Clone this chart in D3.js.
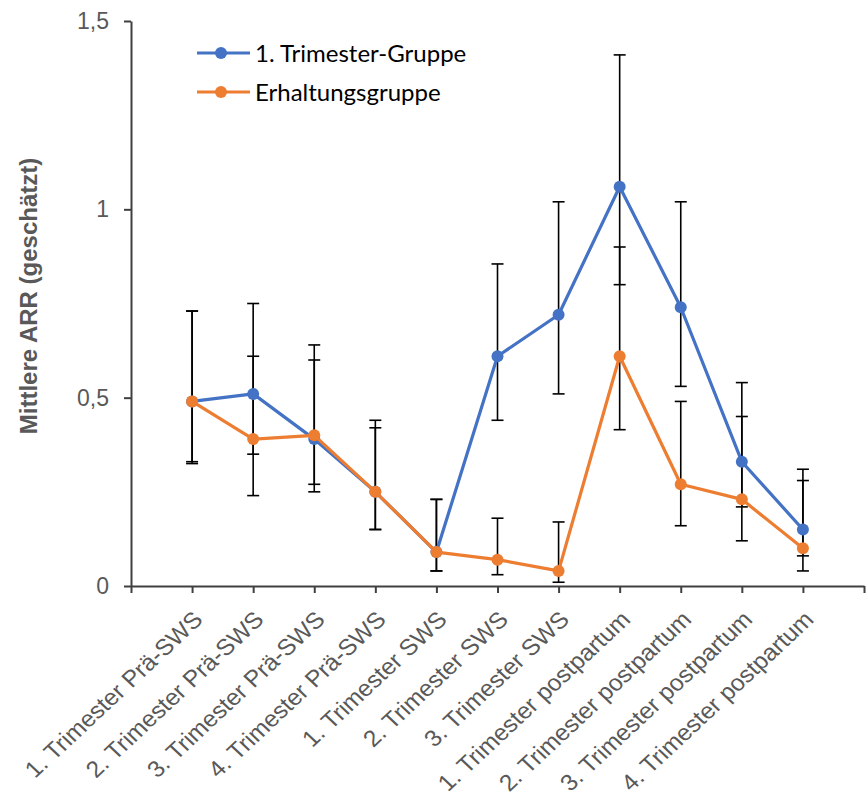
<!DOCTYPE html>
<html>
<head>
<meta charset="utf-8">
<script src="https://cdn.jsdelivr.net/npm/d3@7"></script>
<style>
  body { margin: 0; background: #fff; }
  .axis path, .axis line { stroke: #404040; stroke-width: 2px; }
  .axis text { font-family: "Liberation Sans", Arial, sans-serif; font-size: 23px; fill: #595959; }
</style>
</head>
<body>
<script>
// categories along the x axis
var categories = [
  "1. Trimester Prä-SWS", "2. Trimester Prä-SWS", "3. Trimester Prä-SWS", "4. Trimester Prä-SWS",
  "1. Trimester SWS", "2. Trimester SWS", "3. Trimester SWS",
  "1. Trimester postpartum", "2. Trimester postpartum", "3. Trimester postpartum", "4. Trimester postpartum"
];
var seriesNames = ["1. Trimester-Gruppe", "Erhaltungsgruppe"];

// estimated values with lower / upper error limits
var firstTrim   = [0.49, 0.51, 0.39, 0.25, 0.09, 0.61, 0.72, 1.06, 0.74, 0.33, 0.15];
var firstTrimLo = [0.33, 0.35, 0.27, 0.15, 0.04, 0.44, 0.51, 0.80, 0.53, 0.21, 0.08];
var firstTrimHi = [0.73, 0.75, 0.64, 0.44, 0.23, 0.855, 1.02, 1.41, 1.02, 0.54, 0.31];

var maint   = [0.49, 0.39, 0.40, 0.25, 0.09, 0.07, 0.04, 0.61, 0.27, 0.23, 0.10];
var maintLo = [0.325, 0.24, 0.25, 0.15, 0.04, 0.03, 0.01, 0.415, 0.16, 0.12, 0.04];
var maintHi = [0.73, 0.61, 0.60, 0.42, 0.23, 0.18, 0.17, 0.90, 0.49, 0.45, 0.28];

var yTicks = [0, 0.5, 1, 1.5];
var colors = ["#4472C4", "#ED7D31"];

var W = 866, H = 796;
var svg = d3.select("body").append("svg").attr("width", W).attr("height", H);

// x: category index 1..11 on a 0..12 axis, y: 0..1.5
var x = d3.scaleLinear().domain([0, categories.length + 1]).range([131, 864]);
var y = d3.scaleLinear().domain([0, 1.5]).range([586, 21]);

var fmt = function(d) { return String(d).replace(".", ","); };

// y axis
svg.append("g").attr("class", "axis")
    .attr("transform", "translate(" + x(0) + ",0)")
    .call(d3.axisLeft(y).tickValues(yTicks).tickFormat(fmt).tickSizeInner(7).tickSizeOuter(0).tickPadding(15));

// x axis, ticks at every integer, labels set separately
svg.append("g").attr("class", "axis")
    .attr("transform", "translate(0," + y(0) + ")")
    .call(d3.axisBottom(x).tickValues(d3.range(0, categories.length + 2)).tickFormat("").tickSizeInner(7).tickSizeOuter(0));

// rotated category labels (slightly wide, like the source picture)
svg.append("g").selectAll("text")
    .data(categories)
  .enter().append("text")
    .attr("transform", function(d, i) { return "translate(" + (x(i + 1) + 12) + ",621) scale(1.07,1) rotate(-45)"; })
    .attr("text-anchor", "end")
    .style("font-family", "'Liberation Sans', Arial, sans-serif")
    .style("font-size", "23px")
    .style("fill", "#595959")
    .text(function(d) { return d; });

// y axis title
svg.append("text")
    .attr("transform", "translate(37,296) rotate(-90)")
    .attr("text-anchor", "middle")
    .style("font-family", "'Liberation Sans', Arial, sans-serif")
    .style("font-size", "24px")
    .style("font-weight", "bold")
    .style("fill", "#595959")
    .text("Mittlere ARR (geschätzt)");

var series = [
  {name: seriesNames[0], vals: firstTrim, lo: firstTrimLo, hi: firstTrimHi, color: colors[0]},
  {name: seriesNames[1], vals: maint, lo: maintLo, hi: maintHi, color: colors[1]}
];

// error bars
series.forEach(function(s) {
  var g = svg.append("g").attr("stroke", "#000").attr("stroke-width", 1.6);
  s.vals.forEach(function(v, i) {
    var cx = x(i + 1);
    g.append("line").attr("x1", cx).attr("x2", cx).attr("y1", y(s.lo[i])).attr("y2", y(s.hi[i]));
    g.append("line").attr("x1", cx - 6).attr("x2", cx + 6).attr("y1", y(s.lo[i])).attr("y2", y(s.lo[i]));
    g.append("line").attr("x1", cx - 6).attr("x2", cx + 6).attr("y1", y(s.hi[i])).attr("y2", y(s.hi[i]));
  });
});

var line = d3.line()
    .x(function(d, i) { return x(i + 1); })
    .y(function(d) { return y(d); });

series.forEach(function(s) {
  svg.append("path")
      .datum(s.vals)
      .attr("fill", "none")
      .attr("stroke", s.color)
      .attr("stroke-width", 3.2)
      .attr("stroke-linejoin", "round")
      .attr("d", line);
  svg.append("g").selectAll("circle")
      .data(s.vals)
    .enter().append("circle")
      .attr("cx", function(d, i) { return x(i + 1); })
      .attr("cy", function(d) { return y(d); })
      .attr("r", 6)
      .attr("fill", s.color);
});

// legend
var legend = svg.append("g");
series.forEach(function(s, i) {
  var ly = 53 + i * 39;
  legend.append("line").attr("x1", 197).attr("x2", 250).attr("y1", ly).attr("y2", ly)
      .attr("stroke", s.color).attr("stroke-width", 3.2);
  legend.append("circle").attr("cx", 221).attr("cy", ly).attr("r", 6).attr("fill", s.color);
  legend.append("text").attr("x", 255).attr("y", ly).attr("dy", "0.36em")
      .style("font-family", "Lato, 'Noto Sans', sans-serif")
      .style("font-size", "24px")
      .style("fill", "#000")
      .text(s.name);
});
</script>
</body>
</html>
